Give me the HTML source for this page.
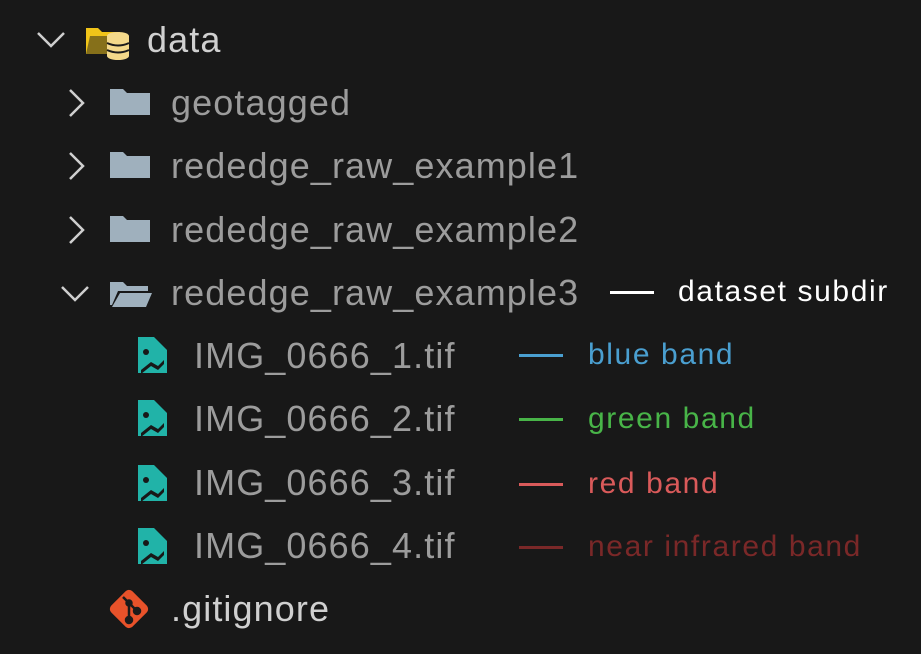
<!DOCTYPE html>
<html><head><style>
body{margin:0;background:#181818;width:921px;height:654px;overflow:hidden;position:relative;font-family:"Liberation Sans",sans-serif}
.t{position:absolute;font-size:36px;color:#9c9c9c;line-height:40px;white-space:nowrap;letter-spacing:1.1px}
.l{position:absolute;font-size:30px;line-height:36px;white-space:nowrap;letter-spacing:1.6px}
.ln{position:absolute;height:3px;width:44px}
svg{position:absolute}
</style></head><body>
<svg width="921" height="654" style="left:0;top:0">
<g fill="none" stroke="#cfcfcf" stroke-width="2.5">
<polyline points="38,33 51,46 64,33"/>
<polyline points="70,90 83,103 70,116"/>
<polyline points="70,153 83,166 70,179"/>
<polyline points="70,217 83,230 70,243"/>
<polyline points="62,287 75,300 88,287"/>
</g>
<path d="M86,28 h12 l4,4 h18 v22 h-34z" fill="#f0c419"/>
<path d="M90,36 h30 l-4,18 h-30z" fill="#1b1b1b" opacity="0.5"/>
<ellipse cx="118" cy="36" rx="11" ry="4" fill="#f4d98a"/>
<rect x="107" y="36" width="22" height="20" fill="#f4d98a"/>
<ellipse cx="118" cy="56" rx="11" ry="4" fill="#f4d98a"/>
<path d="M107,43 q11,5 22,0 M107,50 q11,5 22,0" stroke="#1b1b1b" stroke-width="2" fill="none"/>
<g fill="#9fb0bd">
<path d="M110,89 h13 l4,4 h23 v22 h-40z"/>
<path d="M110,152 h13 l4,4 h23 v22 h-40z"/>
<path d="M110,216 h13 l4,4 h23 v22 h-40z"/>
<path d="M110,282 h13 l4,4 h21 v5 h-30 l-6,14 h-2z"/>
<path d="M120,293 h32 l-6,14 h-34z"/>
</g>
<g fill="#21b3a8">
<path d="M138,337 h16 l13,13 v23 h-29z"/>
<path d="M138,400 h16 l13,13 v23 h-29z"/>
<path d="M138,465 h16 l13,13 v23 h-29z"/>
<path d="M138,528 h16 l13,13 v23 h-29z"/>
</g>
<g fill="#181818">
<circle cx="146" cy="352" r="3"/><path d="M141,370 l10,-8 l7,4 l6,-6 v4 l-6,6 l-7,-4 l-10,8z"/>
<circle cx="146" cy="415" r="3"/><path d="M141,433 l10,-8 l7,4 l6,-6 v4 l-6,6 l-7,-4 l-10,8z"/>
<circle cx="146" cy="480" r="3"/><path d="M141,498 l10,-8 l7,4 l6,-6 v4 l-6,6 l-7,-4 l-10,8z"/>
<circle cx="146" cy="543" r="3"/><path d="M141,561 l10,-8 l7,4 l6,-6 v4 l-6,6 l-7,-4 l-10,8z"/>
</g>
<rect x="114" y="594" width="30" height="30" rx="5" transform="rotate(45 129 609)" fill="#e8522a"/>
<g stroke="#1b1b1b" stroke-width="2.5" fill="#1b1b1b">
<line x1="123" y1="597" x2="129" y2="603"/><line x1="129" y1="603" x2="129" y2="620"/><line x1="129" y1="603" x2="137" y2="611"/>
<circle cx="129" cy="603" r="2.5"/><circle cx="129" cy="620" r="3"/><circle cx="137" cy="611" r="3"/>
</g>
</svg>
<div class="t" style="left:147px;top:20px;color:#d0d0d0">data</div>
<div class="t" style="left:171px;top:83px">geotagged</div>
<div class="t" style="left:171px;top:146px">rededge_raw_example1</div>
<div class="t" style="left:171px;top:210px">rededge_raw_example2</div>
<div class="t" style="left:171px;top:273px">rededge_raw_example3</div>
<div class="t" style="left:194px;top:336px">IMG_0666_1.tif</div>
<div class="t" style="left:194px;top:399px">IMG_0666_2.tif</div>
<div class="t" style="left:194px;top:463px">IMG_0666_3.tif</div>
<div class="t" style="left:194px;top:526px">IMG_0666_4.tif</div>
<div class="t" style="left:171px;top:589px;color:#d0d0d0">.gitignore</div>
<div class="ln" style="left:610px;top:291px;background:#fff"></div>
<div class="l" style="left:678px;top:274px;color:#fff">dataset subdir</div>
<div class="ln" style="left:519px;top:354px;background:#4a9fd0"></div>
<div class="l" style="left:588px;top:337px;color:#4a9fd0">blue band</div>
<div class="ln" style="left:519px;top:418px;background:#48b448"></div>
<div class="l" style="left:588px;top:401px;color:#48b448">green band</div>
<div class="ln" style="left:519px;top:483px;background:#d95a5a"></div>
<div class="l" style="left:588px;top:466px;color:#d95a5a">red band</div>
<div class="ln" style="left:519px;top:546px;background:#7a2828"></div>
<div class="l" style="left:588px;top:529px;color:#7a2828">near infrared band</div>
</body></html>
